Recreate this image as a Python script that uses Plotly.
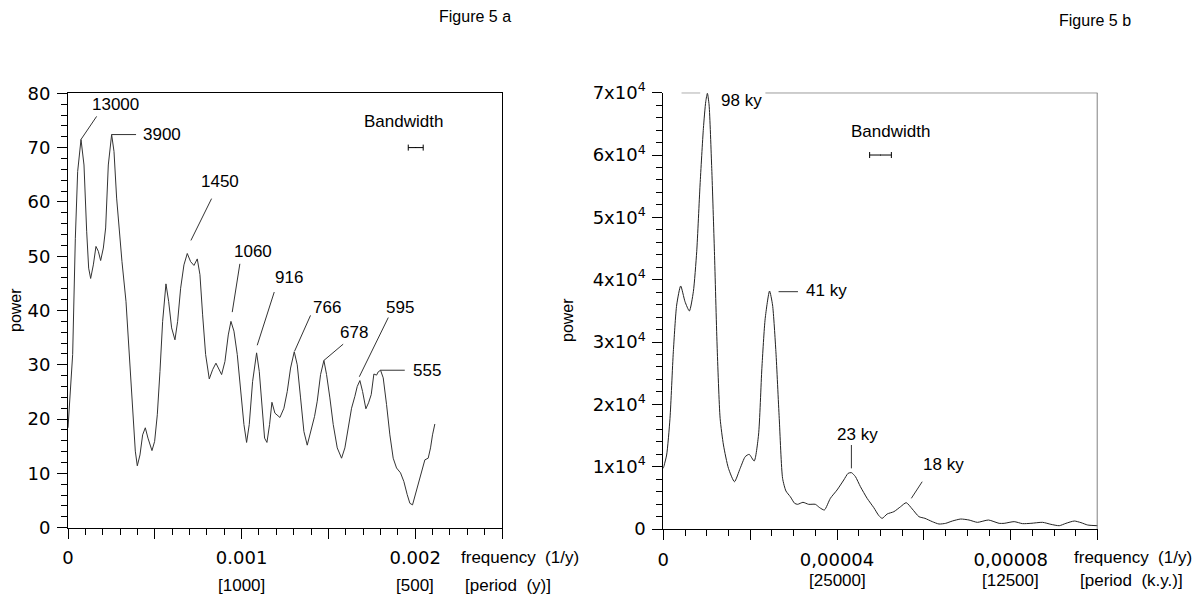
import plotly.graph_objects as go

# ---------------- data: Figure 5 a ----------------
freq_a = [0, 0.0000154, 0.0000269, 0.0000422, 0.0000557, 0.0000749, 0.0000921, 0.0001075, 0.000119,
          0.0001305, 0.0001459, 0.0001612, 0.0001747, 0.0001881, 0.0002035, 0.0002169, 0.0002322,
          0.0002514, 0.0002649, 0.0002802, 0.0002956, 0.0003109, 0.000334, 0.000357, 0.0003762,
          0.0003877, 0.0003992, 0.0004146, 0.0004299, 0.0004453, 0.0004607, 0.0004837, 0.000499,
          0.0005144, 0.0005298, 0.0005451, 0.0005643, 0.0005797, 0.0005969, 0.0006161, 0.0006315,
          0.0006488, 0.0006679, 0.0006871, 0.0007063, 0.0007255, 0.0007447, 0.00076, 0.0007754,
          0.0007927, 0.0008138, 0.000833, 0.0008522, 0.0008695, 0.0008848, 0.000904, 0.0009232,
          0.0009386, 0.0009559, 0.000975, 0.0009942, 0.0010134, 0.0010288, 0.0010441, 0.0010633,
          0.0010864, 0.0011017, 0.0011171, 0.0011324, 0.0011459, 0.0011612, 0.0011747, 0.0011919,
          0.0012207, 0.0012438, 0.001263, 0.0012821, 0.0013033, 0.0013205, 0.0013397, 0.0013589,
          0.0013781, 0.0013973, 0.0014203, 0.0014357, 0.0014549, 0.0014741, 0.0014894, 0.0015086,
          0.0015278, 0.0015509, 0.0015758, 0.001595, 0.0016142, 0.0016334, 0.0016526, 0.001666,
          0.0016814, 0.0016967, 0.0017159, 0.0017313, 0.0017466, 0.001762, 0.0017774, 0.001787,
          0.0018004, 0.0018157, 0.0018349, 0.0018541, 0.0018733, 0.0018925, 0.0019155, 0.0019347,
          0.0019539, 0.0019693, 0.0019846, 0.002, 0.0020173, 0.0020365, 0.0020557, 0.0020749,
          0.0020883, 0.0020998, 0.0021132]
power_a = [18.4, 25.7, 31.9, 53.3, 65.6, 71.5, 66.8, 54.6, 47.8,
           45.9, 48.4, 51.8, 50.9, 49.2, 51.5, 55.2, 66.8,
           72.4, 69.3, 60.7, 54.0, 49.0, 41.7, 30.0, 19.6,
           14.1, 11.4, 13.4, 17.1, 18.4, 16.5, 14.2, 15.9,
           20.8, 28.8, 38.0, 44.9, 41.7, 36.8, 34.6, 38.0,
           44.1, 48.4, 50.5, 49.0, 48.3, 49.5, 46.6, 39.2,
           31.9, 27.4, 29.1, 30.3, 29.1, 28.2, 30.6, 35.5,
           38.0, 36.2, 31.9, 25.7, 19.0, 15.7, 19.0, 26.9,
           32.2, 28.8, 22.0, 16.5, 15.7, 19.0, 23.1, 21.1,
           20.3, 22.0, 25.1, 29.4, 32.4, 30.0, 23.9, 17.7,
           15.2, 17.7, 20.5, 23.3, 28.2, 30.8, 28.2, 23.9,
           19.0, 14.7, 12.8, 14.7, 18.4, 22.0, 24.2, 26.0,
           27.1, 25.1, 21.9, 23.0, 24.5, 28.3, 28.1, 28.7,
           29.0, 27.6, 22.7, 17.1, 12.8, 11.0, 10.1, 8.5,
           6.1, 4.5, 4.2, 6.1, 7.9, 10.4, 12.5, 12.8,
           14.7, 17.1, 19.1]

# ---------------- data: Figure 5 b ----------------
freq_b = [0, 7.7e-7, 1.54e-6, 2.31e-6, 3.08e-6, 4.0e-6, 5.0e-6, 6.0e-6, 6.92e-6, 7.69e-6, 8.46e-6,
          9.23e-6, 9.77e-6, 1.015e-5, 1.054e-5, 1.115e-5, 1.177e-5, 1.238e-5, 1.308e-5, 1.385e-5,
          1.5e-5, 1.638e-5, 1.769e-5, 1.885e-5, 1.977e-5, 2.092e-5, 2.192e-5, 2.269e-5, 2.346e-5,
          2.446e-5, 2.515e-5, 2.592e-5, 2.669e-5, 2.746e-5, 2.823e-5, 2.923e-5, 3.023e-5, 3.092e-5,
          3.215e-5, 3.346e-5, 3.5e-5, 3.6e-5, 3.708e-5, 3.846e-5, 4.0e-5, 4.154e-5, 4.254e-5,
          4.331e-5, 4.423e-5, 4.538e-5, 4.692e-5, 4.846e-5, 4.962e-5, 5.038e-5, 5.154e-5, 5.308e-5,
          5.462e-5, 5.592e-5, 5.731e-5, 5.885e-5, 6.023e-5, 6.192e-5, 6.346e-5, 6.5e-5, 6.654e-5,
          6.846e-5, 7.038e-5, 7.231e-5, 7.485e-5, 7.731e-5, 7.846e-5, 8.077e-5, 8.269e-5, 8.462e-5,
          8.731e-5, 8.923e-5, 9.115e-5, 9.269e-5, 9.462e-5, 9.615e-5, 9.769e-5, 1.0e-4]
power_b = [9730, 11870, 17750, 28450, 35940, 38990, 36470, 34980, 38080, 44500, 55190,
           64280, 68560, 69900, 68030, 57870, 44500, 29520, 17750, 13480,
           9730, 7590, 9730, 11600, 11980, 10910, 15080, 25780, 33800,
           38180, 35940, 28450, 17750, 8130, 6100, 5190, 4120, 3960,
           4280, 3960, 3960, 3420, 3050, 4920, 6260, 7860, 8930,
           9040, 8400, 6790, 4920, 3420, 2140, 1710, 2410, 2780,
           3580, 4220, 3210, 1980, 1710, 1180, 800, 910, 1280,
           1600, 1440, 1070, 1440, 910, 910, 1180, 860, 910,
           1070, 750, 530, 910, 1280, 1020, 640, 530]

# tick labels
xtick_vals_a = [0, 0.0005, 0.001, 0.0015, 0.002, 0.0025]
xtick_text_a = ["0", "", "0.001", "", "0.002", ""]
period_vals_a = [0.001, 0.002]
period_text_a = ["[1000]", "[500]"]
ytick_vals_a = [0, 10, 20, 30, 40, 50, 60, 70, 80]

xtick_vals_b = [0, 2e-5, 4e-5, 6e-5, 8e-5, 1e-4]
xtick_text_b = ["0", "", "0,00004", "", "0,00008", ""]
period_vals_b = [4e-5, 8e-5]
period_text_b = ["[25000]", "[12500]"]
ytick_vals_b = [0, 10000, 20000, 30000, 40000, 50000, 60000, 70000]
ytick_text_b = ["0"] + [f"{i}x10<sup>4</sup>" for i in range(1, 8)]

# peak labels: (text, text_x, text_y, anchor, leader x0, y0, x1, y1)
peaks_a = [
    ("13000", 0.000271, 78.0, "center", 0.0000749, 71.5, 0.000165, 75.75),
    ("3900", 0.00042, 72.4, "left", 0.000251, 72.4, 0.000392, 72.4),
    ("1450", 0.000875, 63.8, "center", 0.000708, 52.9, 0.000827, 60.6),
    ("1060", 0.001063, 50.8, "center", 0.000946, 39.7, 0.000990, 48.6),
    ("916", 0.001274, 46.1, "center", 0.00109, 33.6, 0.001188, 43.4),
    ("766", 0.001493, 40.5, "center", 0.001305, 32.5, 0.001397, 39.1),
    ("678", 0.001647, 36.0, "center", 0.001474, 30.8, 0.001585, 33.8),
    ("595", 0.001912, 40.5, "center", 0.001678, 27.8, 0.001845, 38.7),
    ("555", 0.001973, 29.0, "left", 0.0018, 29.0, 0.00194, 29.0),
]
peaks_b = [
    ("98 ky", 0.0000181, 68700, "center", 0.0000042, 70000, 0.0000085, 70000),
    ("41 ky", 0.0000323, 38200, "left", 0.00002654, 38075, 0.000031, 38075),
    ("23 ky", 0.0000446, 15190, "center", 0.0000433, 9730, 0.0000433, 13476),
    ("18 ky", 0.0000646, 10370, "center", 0.0000571, 4920, 0.0000596, 7590),
]
bandwidth_a = dict(center=0.002003, half=0.000043, level=70, label_y=74.8, label_x=0.001931)
bandwidth_b = dict(center=0.00005, half=0.0000025, level=60000, label_y=63850, label_x=0.0000522)

TXT = dict(family="Liberation Sans, Arial, sans-serif", size=17, color="black")
TICK = dict(family="DejaVu Sans, sans-serif", size=18, color="black")
NB = "\u00a0"

fig = go.Figure()
fig.add_trace(go.Scatter(x=freq_a, y=power_a, mode="lines", line=dict(color="#333333", width=1),
                         xaxis="x", yaxis="y", showlegend=False, hoverinfo="skip"))
fig.add_trace(go.Scatter(x=freq_b, y=power_b, mode="lines", line=dict(color="#222222", width=1, shape="spline", smoothing=0.6),
                         xaxis="x2", yaxis="y2", showlegend=False, hoverinfo="skip"))

# bandwidth bars
for bw, xa, ya in [(bandwidth_a, "x", "y"), (bandwidth_b, "x2", "y2")]:
    fig.add_trace(go.Scatter(x=[bw["center"]], y=[bw["level"]], mode="markers",
                             marker=dict(size=1, color="black"),
                             error_x=dict(type="constant", value=bw["half"], color="black", thickness=1, width=3),
                             xaxis=xa, yaxis=ya, showlegend=False, hoverinfo="skip"))

annotations = []
shapes = []
for peaks, xr, yr in [(peaks_a, "x", "y"), (peaks_b, "x2", "y2")]:
    for txt, tx, ty, anc, x0, y0, x1, y1 in peaks:
        annotations.append(dict(text=txt, x=tx, y=ty, xref=xr, yref=yr, showarrow=False,
                                xanchor=anc, yanchor="middle", font=TXT))
        shapes.append(dict(type="line", x0=x0, y0=y0, x1=x1, y1=y1, xref=xr, yref=yr,
                           line=dict(color="#333333", width=1)))
for bw, xr, yr in [(bandwidth_a, "x", "y"), (bandwidth_b, "x2", "y2")]:
    annotations.append(dict(text="Bandwidth", x=bw["label_x"], y=bw["label_y"], xref=xr, yref=yr,
                            showarrow=False, xanchor="center", yanchor="middle", font=TXT))

# period labels under axis
for vals, texts, xr, ypos in [(period_vals_a, period_text_a, "x", 1 - 585 / 597), (period_vals_b, period_text_b, "x2", 1 - 580 / 597)]:
    for v, t in zip(vals, texts):
        annotations.append(dict(text=t, x=v, y=ypos, xref=xr, yref="paper", showarrow=False,
                                xanchor="center", yanchor="middle", font=TXT))

annotations += [
    dict(text=f"frequency{NB}{NB}(1/y)", x=459 / 1199, y=1 - 557 / 597, xref="paper", yref="paper",
         showarrow=False, xanchor="left", yanchor="middle", font=TXT),
    dict(text=f"[period{NB}{NB}(y)]", x=463 / 1199, y=1 - 585 / 597, xref="paper", yref="paper",
         showarrow=False, xanchor="left", yanchor="middle", font=TXT),
    dict(text=f"frequency{NB}{NB}(1/y)", x=1072 / 1199, y=1 - 557 / 597, xref="paper", yref="paper",
         showarrow=False, xanchor="left", yanchor="middle", font=TXT),
    dict(text=f"[period{NB}{NB}(k.y.)]", x=1078 / 1199, y=1 - 580 / 597, xref="paper", yref="paper",
         showarrow=False, xanchor="left", yanchor="middle", font=TXT),
    dict(text="power", x=15 / 1199, y=1 - 310 / 597, xref="paper", yref="paper", textangle=-90,
         showarrow=False, xanchor="center", yanchor="middle", font=dict(TXT, size=16)),
    dict(text="power", x=567 / 1199, y=1 - 320 / 597, xref="paper", yref="paper", textangle=-90,
         showarrow=False, xanchor="center", yanchor="middle", font=dict(TXT, size=16)),
    dict(text="Figure 5 a", x=475 / 1199, y=1 - 16.5 / 597, xref="paper", yref="paper",
         showarrow=False, xanchor="center", yanchor="middle", font=dict(TXT, size=16)),
    dict(text="Figure 5 b", x=1095 / 1199, y=1 - 20 / 597, xref="paper", yref="paper",
         showarrow=False, xanchor="center", yanchor="middle", font=dict(TXT, size=16)),
]

# right plot frame: top line (interrupted by 98 ky label) and grey right border
shapes += [
    dict(type="line", x0=0.0000235, x1=0.0001, y0=70000, y1=70000, xref="x2", yref="y2",
         line=dict(color="black", width=1)),
    dict(type="line", x0=0.0001, x1=0.0001, y0=0, y1=70000, xref="x2", yref="y2",
         line=dict(color="#808080", width=2)),
]

common_x = dict(showgrid=False, zeroline=False, showline=True, linecolor="black", linewidth=1,
                ticks="outside", ticklen=10, tickwidth=1, tickcolor="black", tickfont=TICK,
                ticklabelstandoff=4, automargin=False)
common_y = dict(showgrid=False, zeroline=False, showline=True, linecolor="black", linewidth=1,
                ticks="outside", ticklen=10, tickwidth=1, tickcolor="black", tickfont=TICK,
                ticklabelstandoff=3, automargin=False)

fig.update_layout(
    width=1199, height=597, margin=dict(l=0, r=0, t=0, b=0, autoexpand=False),
    paper_bgcolor="white", plot_bgcolor="white", showlegend=False,
    xaxis=dict(common_x, domain=[68 / 1199, 502 / 1199], range=[0, 0.0025], anchor="y",
               tickmode="array", tickvals=xtick_vals_a, ticktext=xtick_text_a, mirror=True,
               minor=dict(dtick=0.0001, ticks="outside", ticklen=6, tickcolor="black", showgrid=False)),
    yaxis=dict(common_y, domain=[1 - 527.7 / 597, 1 - 93.3 / 597], range=[0, 80], anchor="x",
               tickmode="array", tickvals=ytick_vals_a, mirror=True,
               minor=dict(dtick=2, ticks="outside", ticklen=6, tickcolor="black", showgrid=False)),
    xaxis2=dict(common_x, domain=[663.3 / 1199, 1097.7 / 1199], range=[0, 0.0001], anchor="y2",
                tickmode="array", tickvals=xtick_vals_b, ticktext=xtick_text_b,
                minor=dict(dtick=0.000005, ticks="outside", ticklen=6, tickcolor="black", showgrid=False)),
    yaxis2=dict(common_y, domain=[1 - 529 / 597, 1 - 92.7 / 597], range=[0, 70000], anchor="x2",
                tickmode="array", tickvals=ytick_vals_b, ticktext=ytick_text_b,
                minor=dict(dtick=2000, ticks="outside", ticklen=6, tickcolor="black", showgrid=False)),
    annotations=annotations, shapes=shapes,
)

fig.write_html("out.html")
